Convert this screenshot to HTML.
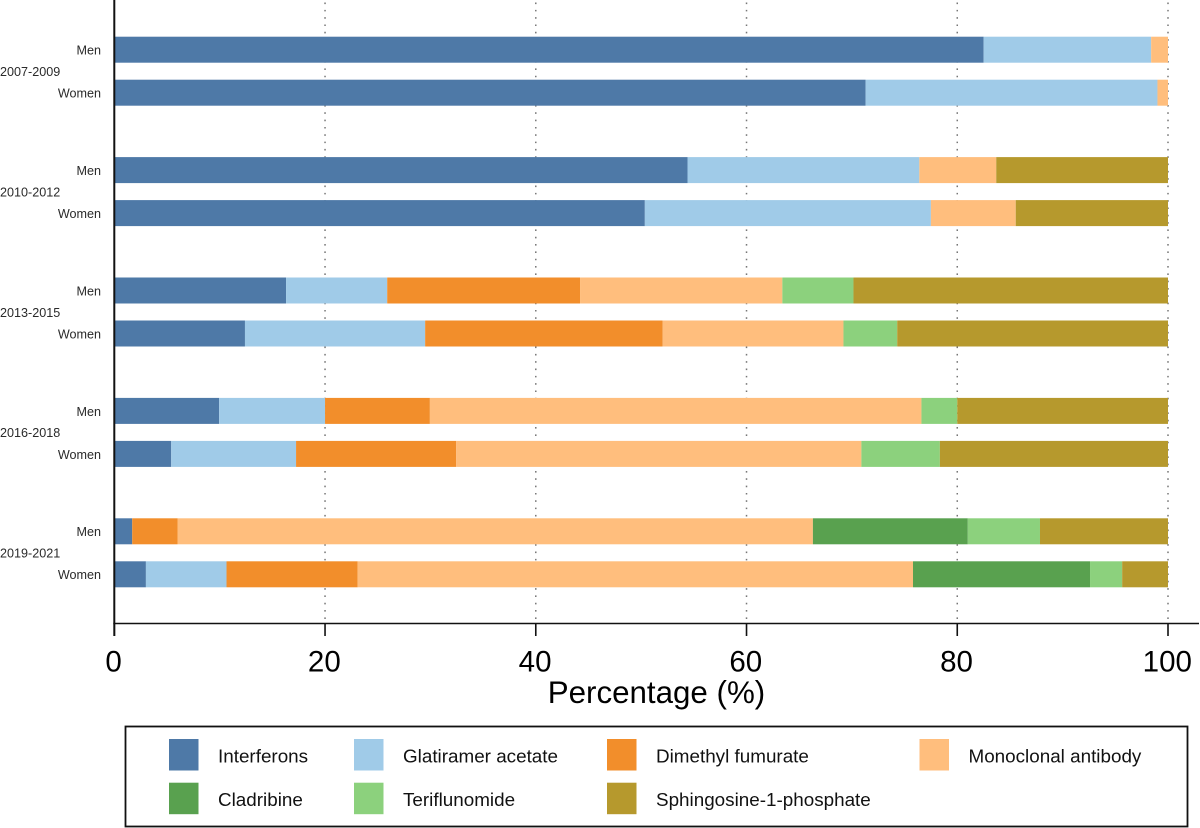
<!DOCTYPE html>
<html lang="en">
<head>
<meta charset="utf-8">
<title>Treatment share by period and sex</title>
<style>
html,body{margin:0;padding:0;background:#fff;width:1200px;height:828px;overflow:hidden}
svg{display:block;font-family:"Liberation Sans",Arial,sans-serif}
</style>
</head>
<body>
<svg id="chart" width="1200" height="828" viewBox="0 0 1200 828" xmlns="http://www.w3.org/2000/svg"></svg>
<script>
const periods = ["2007-2009", "2010-2012", "2013-2015", "2016-2018", "2019-2021"];
const sexes = ["Men", "Women"];
const seriesNames = ["Interferons", "Glatiramer acetate", "Dimethyl fumurate", "Monoclonal antibody", "Cladribine", "Teriflunomide", "Sphingosine-1-phosphate"];
const seriesColors = ["#4e79a7", "#a0cbe8", "#f28e2b", "#ffbe7d", "#59a14f", "#8cd17d", "#b6992d"];
const interferons = [82.5, 71.3, 54.4, 50.35, 16.3, 12.4, 9.95, 5.4, 1.7, 3.0];
const glatiramerAcetate = [15.9, 27.7, 22.0, 27.15, 9.6, 17.1, 10.05, 11.85, 0, 7.65];
const dimethylFumurate = [0, 0, 0, 0, 18.3, 22.55, 9.95, 15.2, 4.3, 12.45];
const monoclonalAntibody = [1.6, 1.0, 7.3, 8.05, 19.2, 17.15, 46.65, 38.45, 60.3, 52.7];
const cladribine = [0, 0, 0, 0, 0, 0, 0, 0, 14.7, 16.8];
const teriflunomide = [0, 0, 0, 0, 6.75, 5.1, 3.4, 7.45, 6.85, 3.05];
const sphingosine = [0, 0, 16.3, 14.45, 29.85, 25.7, 20.0, 21.65, 12.15, 4.35];
const xTicks = [0, 20, 40, 60, 80, 100];
const xTitle = "Percentage (%)";

const allSeries = [interferons, glatiramerAcetate, dimethylFumurate, monoclonalAntibody, cladribine, teriflunomide, sphingosine];
const NS = "http://www.w3.org/2000/svg";
const svg = document.getElementById("chart");

function xScale(v) { return 114.3 + v * 10.537; }
function groupY(i) { return 49.7 + i * 120.4; }
function rowY(g, s) { return groupY(g) + s * 43; }

function make(tag, attrs, text) {
  const el = document.createElementNS(NS, tag);
  for (const k in attrs) el.setAttribute(k, attrs[k]);
  if (text !== undefined) el.textContent = text;
  svg.appendChild(el);
  return el;
}

// vertical dotted gridlines
xTicks.slice(1).forEach(function (t) {
  const g = make("line", { x1: xScale(t), x2: xScale(t), y1: 2.5, y2: 620, stroke: "#777", "stroke-width": 1.5, "stroke-dasharray": "1.6 5.72" });
  
  
});

// stacked bars
periods.forEach(function (period, g) {
  sexes.forEach(function (sex, s) {
    const idx = g * 2 + s;
    const cy = rowY(g, s);
    let cum = 0;
    allSeries.forEach(function (vals, k) {
      const v = vals[idx];
      if (v > 0) {
        const r = make("rect", { x: xScale(cum), y: cy - 13, width: xScale(cum + v) - xScale(cum), height: 26, fill: seriesColors[k] });
        
        
      }
      cum += v;
    });
    const lab = make("text", { x: 101, y: cy + 4.9, "text-anchor": "end", "font-size": 12.6, fill: "#2a2a2a" }, sex);
    
    
  });
  const gl = make("text", { x: 0, y: groupY(g) + 26.3, "font-size": 12.6, fill: "#2a2a2a" }, period);
  
  
});

// axes
const yAxis = make("line", { x1: 114.3, x2: 114.3, y1: 0, y2: 636, stroke: "#111", "stroke-width": 2 });


const xAxis = make("line", { x1: 113.3, x2: 1199, y1: 623.5, y2: 623.5, stroke: "#111", "stroke-width": 1.6 });



xTicks.forEach(function (t) {
  const tick = make("line", { x1: xScale(t), x2: xScale(t), y1: 623.5, y2: 636, stroke: "#111", "stroke-width": 1.6 });
  
  
  const lab = make("text", { x: xScale(t) - 0.7, y: 671.5, "text-anchor": "middle", "font-size": 29.5, fill: "#000" }, String(t));
  
  
});

const title = make("text", { x: 656.5, y: 703, "text-anchor": "middle", "font-size": 31.3, fill: "#000" }, xTitle);



// legend
const box = make("rect", { x: 125.5, y: 726.5, width: 1062, height: 100, fill: "#fff", stroke: "#111", "stroke-width": 1.8 });



const legendColumns = [169, 354, 607, 919.5];
seriesNames.forEach(function (name, k) {
  const col = k < 4 ? k : k - 4;
  const row = k < 4 ? 0 : 1;
  const lx = legendColumns[col];
  const ly = 739 + row * 43.7;
  const sw = make("rect", { x: lx, y: ly, width: 29.5, height: 31.5, fill: seriesColors[k] });
  
  
  const txt = make("text", { x: lx + 49, y: ly + 23.5, "font-size": 18.85, fill: "#111" }, name);
  
  
});
</script>
</body>
</html>
